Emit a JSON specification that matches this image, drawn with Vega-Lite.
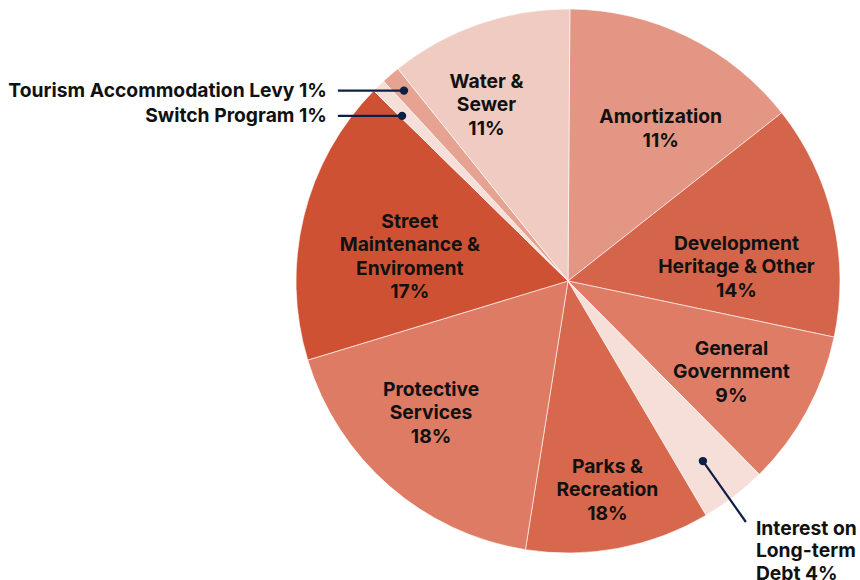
{
  "$schema": "https://vega.github.io/schema/vega-lite/v6.json",
  "width": 544,
  "height": 544,
  "autosize": {"type": "none"},
  "padding": {"left": 296, "top": 9, "right": 20, "bottom": 27},
  "background": "white",
  "view": {"stroke": null},
  "config": {"text": {"font": "Inter", "fontWeight": 700, "fontSize": 19.3, "color": "#111111", "lineBreak": "\n", "lineHeight": 23.5, "align": "center", "baseline": "middle"}},
  "datasets": {
    "slices": [
      {"name": "Amortization", "value": 51.4, "label": "Amortization\n11%"},
      {"name": "Development", "value": 50.1, "label": "Development\nHeritage & Other\n14%"},
      {"name": "General", "value": 33.4, "label": "General\nGovernment\n9%"},
      {"name": "Interest", "value": 14.2, "label": ""},
      {"name": "Parks", "value": 39.5, "label": "Parks &\nRecreation\n18%"},
      {"name": "Protective", "value": 64.1, "label": "Protective\nServices\n18%"},
      {"name": "Street", "value": 61.3, "label": "Street\nMaintenance &\nEnviroment\n17%"},
      {"name": "Switch", "value": 2.9, "label": ""},
      {"name": "Tourism", "value": 4.0, "label": ""},
      {"name": "Water", "value": 39.1, "label": "Water &\nSewer\n11%"}
    ],
    "callouts": [
      {"id": "Tourism", "txt": "Tourism Accommodation Levy 1%", "x": -0.603, "y": 0.700, "x2": -0.846, "y2": 0.700},
      {"id": "Switch", "txt": "Switch Program 1%", "x": -0.610, "y": 0.607, "x2": -0.846, "y2": 0.607},
      {"id": "Interest", "txt": "Interest on\nLong-term\nDebt 4%", "x": 0.496, "y": -0.662, "x2": 0.654, "y2": -0.886}
    ]
  },
  "layer": [
    {
      "data": {"name": "slices"},
      "encoding": {
        "theta": {"field": "value", "type": "quantitative", "stack": true, "scale": {"range": [0.007, 6.2902]}},
        "order": {"field": "name", "type": "ordinal", "sort": "ascending"}
      },
      "layer": [
        {
          "mark": {"type": "arc", "stroke": "#ffffff", "strokeWidth": 0.6, "outerRadius": 272},
          "encoding": {
            "color": {
              "field": "name", "type": "nominal", "legend": null,
              "scale": {
                "domain": ["Amortization", "Development", "General", "Interest", "Parks", "Protective", "Street", "Switch", "Tourism", "Water"],
                "range": ["#e39683", "#d4644a", "#df7c65", "#f6dfd9", "#d7674d", "#de7b64", "#cf5134", "#f6dfd9", "#e6a391", "#f0cbc1"]
              }
            }
          }
        },
        {"mark": {"type": "text", "radius": 215, "dx": -11, "dy": 4}, "encoding": {"text": {"condition": {"test": "datum.name === 'Water'", "field": "label"}, "value": ""}}},
        {"mark": {"type": "text", "radius": 188, "dx": 10, "dy": 5}, "encoding": {"text": {"condition": {"test": "datum.name === 'Amortization'", "field": "label"}, "value": ""}}},
        {"mark": {"type": "text", "radius": 173, "dx": 0, "dy": 2}, "encoding": {"text": {"condition": {"test": "datum.name === 'Development'", "field": "label"}, "value": ""}}},
        {"mark": {"type": "text", "radius": 177, "dx": 8, "dy": -17}, "encoding": {"text": {"condition": {"test": "datum.name === 'General'", "field": "label"}, "value": ""}}},
        {"mark": {"type": "text", "radius": 190, "dx": 4, "dy": -1}, "encoding": {"text": {"condition": {"test": "datum.name === 'Parks'", "field": "label"}, "value": ""}}},
        {"mark": {"type": "text", "radius": 175, "dx": -22, "dy": -23}, "encoding": {"text": {"condition": {"test": "datum.name === 'Protective'", "field": "label"}, "value": ""}}},
        {"mark": {"type": "text", "radius": 169, "dx": 6, "dy": -19}, "encoding": {"text": {"condition": {"test": "datum.name === 'Street'", "field": "label"}, "value": ""}}}
      ]
    },
    {
      "data": {"name": "callouts"},
      "encoding": {
        "x": {"field": "x", "type": "quantitative", "axis": null, "scale": {"domain": [-1, 1], "nice": false, "zero": false}},
        "y": {"field": "y", "type": "quantitative", "axis": null, "scale": {"domain": [-1, 1], "nice": false, "zero": false}}
      },
      "layer": [
        {"mark": {"type": "rule", "color": "#0c1f45", "strokeWidth": 2.2}, "encoding": {"x2": {"field": "x2"}, "y2": {"field": "y2"}}},
        {"mark": {"type": "point", "filled": true, "color": "#0c1f45", "size": 70, "opacity": 1}, "encoding": {}},
        {
          "transform": [{"filter": "datum.id !== 'Interest'"}],
          "mark": {"type": "text", "align": "right", "dx": -11},
          "encoding": {"x": {"field": "x2", "type": "quantitative"}, "y": {"field": "y2", "type": "quantitative"}, "text": {"field": "txt"}}
        },
        {
          "transform": [{"filter": "datum.id === 'Interest'"}],
          "mark": {"type": "text", "align": "left", "baseline": "top", "dx": 10, "dy": -2, "lineHeight": 22.5},
          "encoding": {"x": {"field": "x2", "type": "quantitative"}, "y": {"field": "y2", "type": "quantitative"}, "text": {"field": "txt"}}
        }
      ]
    }
  ]
}
